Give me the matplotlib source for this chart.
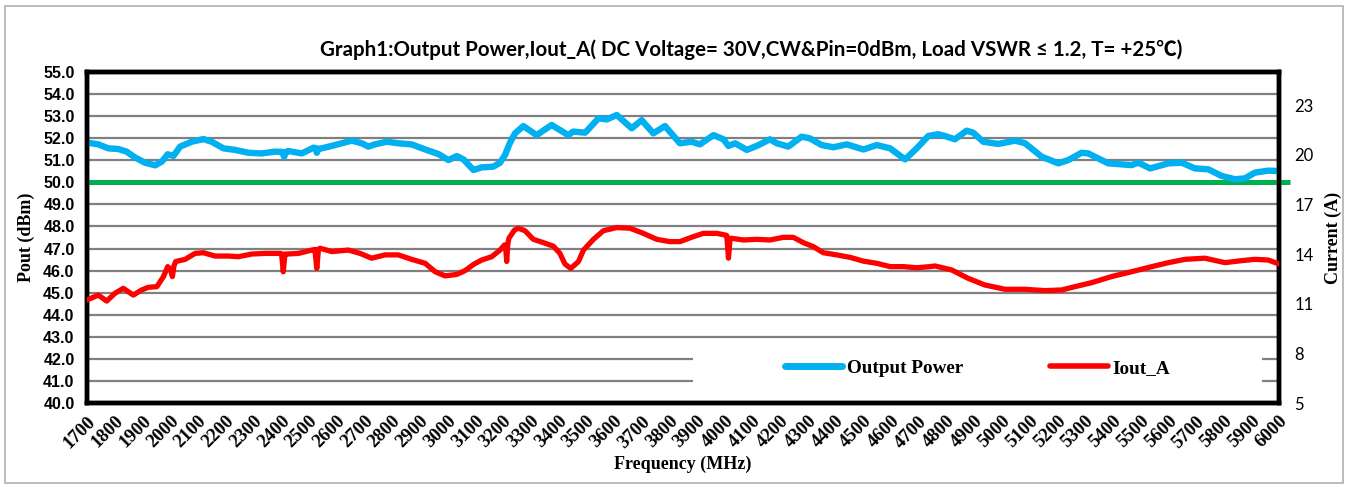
import matplotlib
matplotlib.use("Agg")
import matplotlib.pyplot as plt
from matplotlib.patches import Rectangle
from matplotlib.lines import Line2D
import numpy as np

# ---------------- data ----------------
title = "Graph1:Output Power,Iout_A( DC Voltage= 30V,CW&Pin=0dBm, Load VSWR \u2264 1.2, T= +25\u2103)"

freq_ticks = list(range(1700, 6001, 100))

pout_freq = [1700, 1741, 1777, 1813, 1843, 1873, 1909, 1946, 1970, 1991, 2012, 2036, 2078, 2120,
             2150, 2192, 2234, 2282, 2330, 2378, 2404, 2411, 2418, 2426, 2475, 2517, 2525, 2529,
             2535, 2547, 2595, 2655, 2691, 2715, 2739, 2781, 2823, 2871, 2920, 2968, 3004, 3034,
             3058, 3094, 3124, 3166, 3190, 3208, 3226, 3244, 3274, 3322, 3376, 3436, 3454, 3497,
             3545, 3575, 3611, 3665, 3701, 3743, 3785, 3839, 3881, 3911, 3960, 3996, 4014, 4038,
             4080, 4116, 4164, 4188, 4230, 4278, 4308, 4350, 4392, 4441, 4501, 4549, 4597, 4651,
             4693, 4735, 4770, 4795, 4831, 4873, 4897, 4933, 4987, 5048, 5084, 5144, 5204, 5240,
             5288, 5312, 5384, 5468, 5493, 5535, 5601, 5649, 5697, 5745, 5793, 5841, 5877, 5913,
             5961, 6000]
pout_dbm = [51.80, 51.72, 51.54, 51.51, 51.39, 51.13, 50.89, 50.77, 50.94, 51.27, 51.20, 51.62, 51.84, 51.96,
            51.84, 51.54, 51.47, 51.34, 51.31, 51.39, 51.38, 51.16, 51.38, 51.42, 51.31, 51.57, 51.55, 51.34,
            51.52, 51.54, 51.69, 51.89, 51.77, 51.62, 51.72, 51.84, 51.77, 51.72, 51.49, 51.28, 51.01, 51.19,
            51.04, 50.56, 50.68, 50.71, 50.89, 51.24, 51.80, 52.22, 52.55, 52.14, 52.60, 52.14, 52.30, 52.25,
            52.90, 52.85, 53.05, 52.45, 52.82, 52.22, 52.55, 51.77, 51.84, 51.72, 52.14, 51.95, 51.65, 51.77,
            51.47, 51.65, 51.95, 51.77, 51.62, 52.07, 51.99, 51.69, 51.59, 51.72, 51.49, 51.69, 51.54, 51.04,
            51.54, 52.10, 52.18, 52.10, 51.95, 52.34, 52.25, 51.84, 51.74, 51.89, 51.77, 51.16, 50.86, 51.01,
            51.34, 51.31, 50.86, 50.78, 50.89, 50.63, 50.86, 50.89, 50.63, 50.59, 50.29, 50.14, 50.18, 50.44,
            50.53, 50.51]

iout_freq = [1700, 1741, 1771, 1801, 1831, 1867, 1897, 1921, 1952, 1976, 1991, 2000, 2008, 2014, 2020,
             2054, 2090, 2120, 2162, 2210, 2246, 2294, 2342, 2396, 2402, 2408, 2414, 2420, 2463, 2511,
             2522, 2529, 2535, 2541, 2583, 2643, 2685, 2727, 2775, 2823, 2871, 2920, 2956, 2992, 3034,
             3064, 3094, 3124, 3160, 3190, 3206, 3210, 3214, 3218, 3222, 3242, 3256, 3280, 3310, 3346,
             3382, 3406, 3424, 3445, 3473, 3491, 3527, 3563, 3611, 3659, 3707, 3755, 3803, 3839, 3887,
             3923, 3972, 4002, 4008, 4014, 4020, 4026, 4068, 4116, 4164, 4212, 4248, 4284, 4320, 4356,
             4404, 4453, 4501, 4549, 4597, 4645, 4693, 4741, 4759, 4819, 4879, 4939, 5012, 5084, 5156,
             5216, 5264, 5324, 5396, 5468, 5541, 5601, 5661, 5733, 5805, 5865, 5913, 5961, 6000]
iout_a = [11.23, 11.52, 11.16, 11.63, 11.93, 11.52, 11.83, 11.99, 12.03, 12.64, 13.24, 13.10, 12.64, 13.30, 13.55,
          13.68, 14.04, 14.08, 13.88, 13.88, 13.84, 14.00, 14.04, 14.04, 14.02, 12.93, 14.00, 14.00, 14.04, 14.24,
          14.28, 13.13, 14.30, 14.35, 14.15, 14.24, 14.04, 13.75, 13.95, 13.95, 13.68, 13.44, 12.93, 12.68, 12.77,
          13.00, 13.37, 13.64, 13.84, 14.24, 14.55, 14.50, 13.55, 14.60, 14.95, 15.45, 15.56, 15.41, 14.89, 14.69,
          14.48, 14.04, 13.40, 13.13, 13.55, 14.24, 14.89, 15.41, 15.60, 15.56, 15.25, 14.89, 14.75, 14.75, 15.05,
          15.25, 15.25, 15.15, 15.12, 13.75, 14.95, 14.95, 14.85, 14.89, 14.85, 15.01, 15.01, 14.69, 14.45, 14.08,
          13.95, 13.80, 13.57, 13.44, 13.24, 13.24, 13.17, 13.24, 13.28, 13.04, 12.53, 12.13, 11.87, 11.87, 11.79,
          11.83, 12.03, 12.27, 12.64, 12.93, 13.24, 13.48, 13.68, 13.75, 13.48, 13.60, 13.68, 13.64, 13.40]

spec_limit_dbm = 50.0
left_ticks = np.arange(40.0, 55.01, 1.0)
right_ticks = [5, 8, 11, 14, 17, 20, 23]

# ---------------- style ----------------
BLUE = "#00B0F0"
RED = "#FF0000"
GREEN = "#00B050"
SERIF = ["Liberation Serif", "DejaVu Serif"]
SANS = ["Liberation Sans", "DejaVu Sans"]

W, H = 1352, 487
fig = plt.figure(figsize=(W / 100, H / 100), dpi=100)
fig.patch.set_facecolor("white")

# outer chart border
fig.patches.append(Rectangle((5 / W, 4 / H), 1338 / W, 477 / H, transform=fig.transFigure,
                             fill=False, edgecolor="#b0b0b0", lw=1.2))

L, R, B, T = 87 / W, 1279 / W, 1 - 403 / H, 1 - 72 / H
ax = fig.add_axes([L, B, R - L, T - B])
ax2 = ax.twinx()

ax.set_xlim(1700, 6000)
ax.set_ylim(40, 55)
ax2.set_ylim(5, 25)

ax.set_axisbelow(True)
ax.set_yticks(left_ticks)
ax.set_yticklabels([f"{v:.1f}" for v in left_ticks], fontfamily=SANS, fontweight="bold", fontsize=11.5)
ax.yaxis.grid(True, color="#808080", lw=1.6)
ax.tick_params(axis="y", length=0, pad=9)

ax.set_xticks(freq_ticks)
ax.set_xticklabels([str(f) for f in freq_ticks], rotation=45, ha="right", rotation_mode="anchor",
                   fontfamily=SERIF, fontweight="bold", fontsize=13.5)
ax.tick_params(axis="x", length=0, pad=7)

ax2.set_yticks(right_ticks)
ax2.set_yticklabels([str(v) for v in right_ticks], fontfamily=["Lato", "DejaVu Sans"], fontsize=12)
ax2.tick_params(axis="y", length=0, pad=11)

for a in (ax, ax2):
    for s in a.spines.values():
        s.set_linewidth(3.2)
        s.set_color("black")

# white legend area hiding the grid
ax.add_patch(Rectangle((0.508, 0.0), 0.478, 0.175, transform=ax.transAxes,
                       facecolor="white", edgecolor="none", zorder=1))

ax.axhline(spec_limit_dbm, xmin=0, xmax=1.009, color=GREEN, lw=3.6, clip_on=False, zorder=3,
           solid_capstyle="butt")
ax.plot(pout_freq, pout_dbm, color=BLUE, lw=4.6, zorder=4, solid_joinstyle="round",
        solid_capstyle="round")
ax2.plot(iout_freq, iout_a, color=RED, lw=3.8, zorder=4, solid_joinstyle="round",
         solid_capstyle="round")

ax.set_ylabel("Pout (dBm)", fontfamily=SERIF, fontweight="bold", fontsize=13, labelpad=6)
ax2.set_ylabel("Current (A)", fontfamily=SERIF, fontweight="bold", fontsize=13, labelpad=8)
ax.set_xlabel("Frequency (MHz)", fontfamily=SERIF, fontweight="bold", fontsize=13, labelpad=3)

fig.text(751 / W, 1 - 50 / H, title, ha="center", va="center",
         fontfamily=["Lato", "Noto Sans CJK SC", "DejaVu Sans"], fontweight="bold", fontsize=14.8)

handles = [Line2D([], [], color=BLUE, lw=5, solid_capstyle="round"),
           Line2D([], [], color=RED, lw=4, solid_capstyle="round")]
leg = ax2.legend(handles, ["Output Power", "Iout_A"], loc="center", bbox_to_anchor=(0.747, 0.105),
                 ncol=2, frameon=False, handlelength=3.0, handletextpad=0.25, columnspacing=4.55,
                 prop={"family": SERIF, "weight": "bold", "size": 13.8})

fig.savefig("out.png", dpi=100, facecolor="white")
